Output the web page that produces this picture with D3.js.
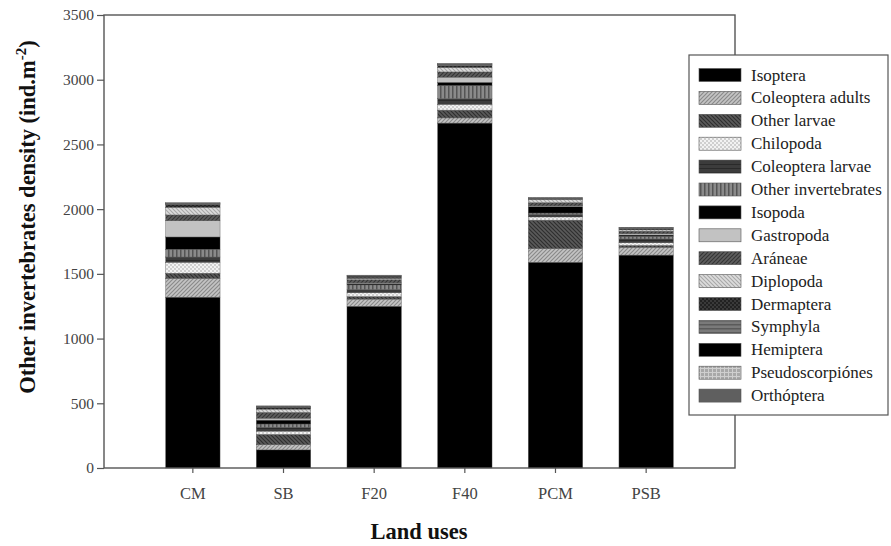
<!DOCTYPE html>
<html><head><meta charset="utf-8">
<script src="https://cdn.jsdelivr.net/npm/d3@7"></script>
<style>body{margin:0;background:#fff}svg{display:block}</style>
</head><body><svg id="c" width="891" height="546"></svg>
<script>
const categories = ["CM","SB","F20","F40","PCM","PSB"];
const seriesNames = ["Isoptera","Coleoptera adults","Other larvae","Chilopoda","Coleoptera larvae","Other invertebrates","Isopoda","Gastropoda","Aráneae","Diplopoda","Dermaptera","Symphyla","Hemiptera","Pseudoscorpiónes","Orthóptera"];
const Isoptera          = [1320, 140, 1250, 2665, 1590, 1645];
const ColeopteraAdults  = [145, 40, 55, 40, 105, 60];
const OtherLarvae       = [40, 80, 20, 60, 220, 15];
const Chilopoda         = [85, 25, 30, 45, 25, 20];
const ColeopteraLarvae  = [40, 30, 25, 45, 20, 30];
const OtherInvertebrates= [60, 25, 35, 100, 10, 20];
const Isopoda           = [95, 30, 10, 25, 50, 10];
const Gastropoda        = [125, 15, 5, 40, 5, 10];
const Araneae           = [45, 45, 25, 40, 25, 20];
const Diplopoda         = [60, 25, 10, 35, 25, 10];
const Dermaptera        = [20, 15, 10, 15, 5, 10];
const Symphyla          = [5, 5, 5, 5, 5, 5];
const Hemiptera         = [3, 3, 5, 5, 3, 3];
const Pseudoscorpiones  = [3, 2, 3, 3, 2, 2];
const Orthoptera        = [4, 0, 2, 2, 0, 0];
const yTicks = [0,500,1000,1500,2000,2500,3000,3500];

const seriesValues = [Isoptera,ColeopteraAdults,OtherLarvae,Chilopoda,ColeopteraLarvae,OtherInvertebrates,Isopoda,Gastropoda,Araneae,Diplopoda,Dermaptera,Symphyla,Hemiptera,Pseudoscorpiones,Orthoptera];
const table = categories.map((c,i)=>{const o={cat:c};seriesNames.forEach((s,j)=>o[s]=seriesValues[j][i]);return o;});

const svg = d3.select("#c");
const defs = svg.append("defs");
function pat(id, bg, draw, size=4){
  const p = defs.append("pattern").attr("id",id).attr("patternUnits","userSpaceOnUse").attr("width",size).attr("height",size);
  p.append("rect").attr("width",size).attr("height",size).attr("fill",bg);
  if(draw) draw(p,size);
  return `url(#${id})`;
}
const fwd=(col,w)=> (p,s)=>{p.append("path").attr("d",`M0,${s} L${s},0 M-1,1 L1,-1 M${s-1},${s+1} L${s+1},${s-1}`).attr("stroke",col).attr("stroke-width",w);};
const bwd=(col,w)=> (p,s)=>{p.append("path").attr("d",`M0,0 L${s},${s} M-1,${s-1} L1,${s+1} M${s-1},-1 L${s+1},1`).attr("stroke",col).attr("stroke-width",w);};
const fills = [
  "#000",
  pat("p1","#c4c4c4",fwd("#8a8a8a",1.2)),
  pat("p2","#5a5a5a",bwd("#2e2e2e",1.2)),
  pat("p3","#cfcfcf",(p)=>{p.append("rect").attr("x",0).attr("y",0).attr("width",2).attr("height",2).attr("fill","#f2f2f2");p.append("rect").attr("x",2).attr("y",2).attr("width",2).attr("height",2).attr("fill","#f2f2f2");}),
  pat("p4","#3c3c3c",(p)=>{p.append("rect").attr("y",0).attr("width",4).attr("height",1).attr("fill","#2a2a2a");}),
  pat("p5","#8a8a8a",(p)=>{p.append("rect").attr("x",0).attr("width",1.5).attr("height",4).attr("fill","#555");}),
  "#000",
  "#c2c2c2",
  pat("p8","#5e5e5e",fwd("#353535",1.2)),
  pat("p9","#dcdcdc",bwd("#a8a8a8",1.1)),
  pat("p10","#3a3a3a",(p)=>{p.append("rect").attr("x",0).attr("y",0).attr("width",2).attr("height",2).attr("fill","#222");p.append("rect").attr("x",2).attr("y",2).attr("width",2).attr("height",2).attr("fill","#222");}),
  pat("p11","#7a7a7a",(p)=>{p.append("rect").attr("y",0).attr("width",4).attr("height",1.5).attr("fill","#5a5a5a");}),
  "#000",
  pat("p13","#a8a8a8",(p)=>{p.append("path").attr("d","M0,0.5 H4 M0.5,0 V4").attr("stroke","#cfcfcf").attr("stroke-width",1);}),
  "#5f5f5f"
];

const x0=104, x1=735, yTop=15, yBot=468;
const x = d3.scaleBand().domain(categories).range([x0,x1]).paddingInner(0.4).paddingOuter(0.68);
const y = d3.scaleLinear().domain([0,3500]).range([yBot,yTop]);

const stack = d3.stack().keys(seriesNames)(table);
svg.append("g").selectAll("g").data(stack).join("g")
  .attr("fill",(d,i)=>fills[i])
  .selectAll("rect").data(d=>d).join("rect")
  .attr("x",d=>x(d.data.cat)).attr("width",x.bandwidth())
  .attr("y",d=>y(d[1])).attr("height",d=>Math.max(0,y(d[0])-y(d[1])))
  .attr("stroke","#555").attr("stroke-width",0.4);

svg.append("rect").attr("x",x0).attr("y",yTop).attr("width",x1-x0).attr("height",yBot-yTop)
  .attr("fill","none").attr("stroke","#555").attr("stroke-width",1.4);

const font = "'Liberation Serif','Times New Roman',serif";
const ya = svg.append("g").attr("transform",`translate(${x0},0)`)
  .call(d3.axisLeft(y).tickValues(yTicks).tickSize(7).tickPadding(3).tickFormat(d3.format("d")));
ya.select(".domain").remove();
ya.selectAll("line").attr("stroke","#555").attr("stroke-width",1.2);
ya.selectAll("text").attr("font-family",font).attr("font-size",15.5).attr("fill","#444");
const xa = svg.append("g").attr("transform",`translate(0,${yBot})`)
  .call(d3.axisBottom(x).tickSize(5).tickPadding(14));
xa.select(".domain").remove();
xa.selectAll("line").attr("stroke","#555").attr("stroke-width",1.2);
xa.selectAll("text").attr("font-family",font).attr("font-size",16.5).attr("fill","#444");

svg.append("text").attr("x",419).attr("y",539).attr("text-anchor","middle")
  .attr("font-family",font).attr("font-weight","bold").attr("font-size",22.5).attr("fill","#111").text("Land uses");
const yt = svg.append("text").attr("transform","translate(35,217) rotate(-90)").attr("text-anchor","middle")
  .attr("font-family",font).attr("font-weight","bold").attr("font-size",22.5).attr("fill","#111");
yt.append("tspan").text("Other invertebrates density (ind.m");
yt.append("tspan").attr("dy",-9).attr("font-size",15).text("-2");
yt.append("tspan").attr("dy",9).text(")");

const lg = svg.append("g");
lg.append("rect").attr("x",689).attr("y",55).attr("width",199).attr("height",360)
  .attr("fill","#fff").attr("stroke","#555").attr("stroke-width",1.2);
seriesNames.forEach((s,i)=>{
  const cy = 75 + i*22.9;
  lg.append("rect").attr("x",699).attr("y",cy-6.5).attr("width",42).attr("height",13).attr("fill",fills[i]).attr("stroke","#555").attr("stroke-width",0.6);
  lg.append("text").attr("x",751).attr("y",cy+5.5).attr("font-family",font).attr("font-size",17).attr("fill","#222").text(s);
});
</script></body></html>
